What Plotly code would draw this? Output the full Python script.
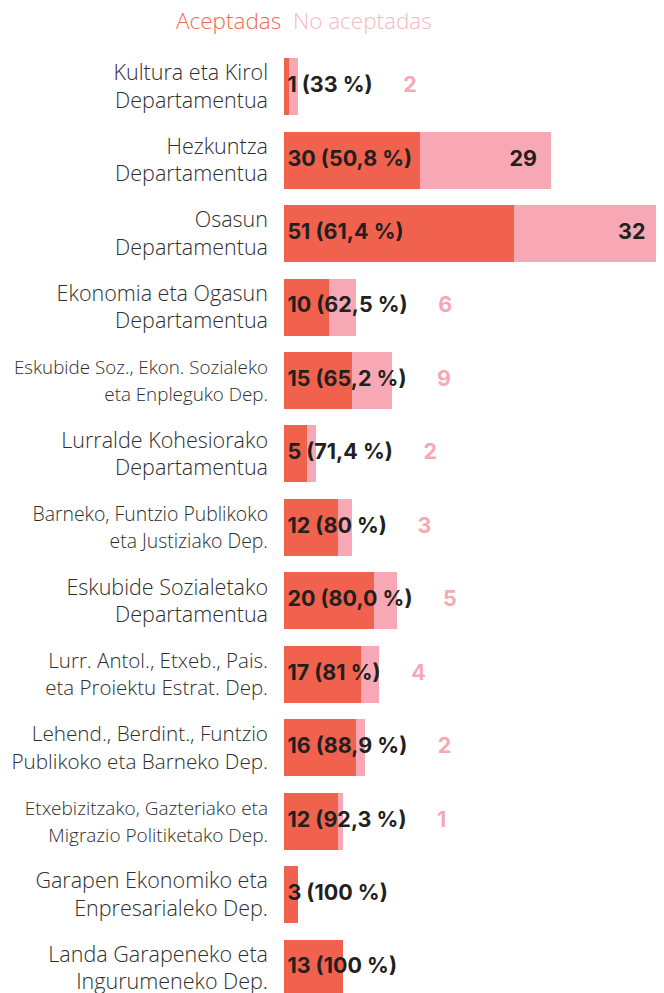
import plotly.graph_objects as go

departments = [
    "Kultura eta Kirol<br>Departamentua",
    "Hezkuntza<br>Departamentua",
    "Osasun<br>Departamentua",
    "Ekonomia eta Ogasun<br>Departamentua",
    "Eskubide Soz., Ekon. Sozialeko<br>eta Enpleguko Dep.",
    "Lurralde Kohesiorako<br>Departamentua",
    "Barneko, Funtzio Publikoko<br>eta Justiziako Dep.",
    "Eskubide Sozialetako<br>Departamentua",
    "Lurr. Antol., Etxeb., Pais.<br>eta Proiektu Estrat. Dep.",
    "Lehend., Berdint., Funtzio<br>Publikoko eta Barneko Dep.",
    "Etxebizitzako, Gazteriako eta<br>Migrazio Politiketako Dep.",
    "Garapen Ekonomiko eta<br>Enpresarialeko Dep.",
    "Landa Garapeneko eta<br>Ingurumeneko Dep.",
]
aceptadas = [1, 30, 51, 10, 15, 5, 12, 20, 17, 16, 12, 3, 13]
no_aceptadas = [2, 29, 32, 6, 9, 2, 3, 5, 4, 2, 1, 0, 0]
pct_labels = ["33 %", "50,8 %", "61,4 %", "62,5 %", "65,2 %", "71,4 %", "80 %",
              "80,0 %", "81 %", "88,9 %", "92,3 %", "100 %", "100 %"]

# per-label font size (the original typesetting condenses the long names)
LABEL_SIZE = [21.5, 21.5, 21.5, 21.5, 18.8, 21.5, 19.4, 21.5, 20.5, 20.7, 19.0, 21.5, 21.5]

C_ACC = "#F0624D"
C_NO = "#F7A8B4"
C_TXT = "#231F20"
C_LBL = "#2E2E2E"

ys = list(range(len(departments)))
totals = [a + n for a, n in zip(aceptadas, no_aceptadas)]
inside = [n >= 20 for n in no_aceptadas]

tick_text = [f"<span style='font-size:{s}px'>{d}</span>".replace(
    "<br>", f"</span><br><span style='font-size:{s}px'>") for d, s in zip(departments, LABEL_SIZE)]

fig = go.Figure()
fig.add_trace(go.Bar(y=ys, x=aceptadas, orientation="h", marker_color=C_ACC,
                     marker_line_width=0, name="Aceptadas", hoverinfo="skip"))
fig.add_trace(go.Bar(y=ys, x=no_aceptadas, orientation="h", marker_color=C_NO,
                     marker_line_width=0, name="No aceptadas", hoverinfo="skip"))

acc_text = []
for a, n, p, ins in zip(aceptadas, no_aceptadas, pct_labels, inside):
    t = f"\u2009{a} ({p})"
    if n > 0 and not ins:
        t += "&nbsp;" * 6 + f"<span style='color:{C_NO}'>{n}</span>"
    acc_text.append(t)
fig.add_trace(go.Scatter(y=ys, x=[0] * len(ys), mode="text", text=acc_text,
                         textposition="middle right",
                         textfont=dict(family="Inter", size=21.5, color=C_TXT, weight=700),
                         hoverinfo="skip", showlegend=False))

in_y = [y for y, ins in zip(ys, inside) if ins]
in_x = [t for t, ins in zip(totals, inside) if ins]
in_t = [f"{n}" + "&nbsp;&nbsp;\u2009" for n, ins in zip(no_aceptadas, inside) if ins]
fig.add_trace(go.Scatter(y=in_y, x=in_x, mode="text", text=in_t,
                         textposition="middle left",
                         textfont=dict(family="Inter", size=21.5, color=C_TXT, weight=700),
                         hoverinfo="skip", showlegend=False))

# page body has an 8px margin: figure is shifted by 8px right/down
fig.update_layout(
    width=656, height=985,
    barmode="stack", bargap=0.224,
    margin=dict(l=276, r=0, t=42, b=0),
    plot_bgcolor="white", paper_bgcolor="white",
    showlegend=False,
    xaxis=dict(range=[0, 84.1], visible=False, fixedrange=True),
    yaxis=dict(range=[12.34, -0.5], tickmode="array", tickvals=ys, ticktext=tick_text,
               showgrid=False, zeroline=False, showline=False, ticks="",
               ticklabelstandoff=15, automargin=False, ticklabeloverflow="allow",
               tickfont=dict(family="Open Sans", size=21, color=C_LBL, weight=300)),
    annotations=[dict(
        xref="paper", yref="paper", x=-0.2895, y=1.0, yshift=30,
        xanchor="left", yanchor="middle", showarrow=False,
        text=f"<span style='color:#F26B55'>Aceptadas</span>&nbsp;&nbsp;<span style='color:#F9B8C2'>No aceptadas</span>",
        font=dict(family="Open Sans", size=22.5, weight=300),
    )],
)

fig.write_html("out.html")
